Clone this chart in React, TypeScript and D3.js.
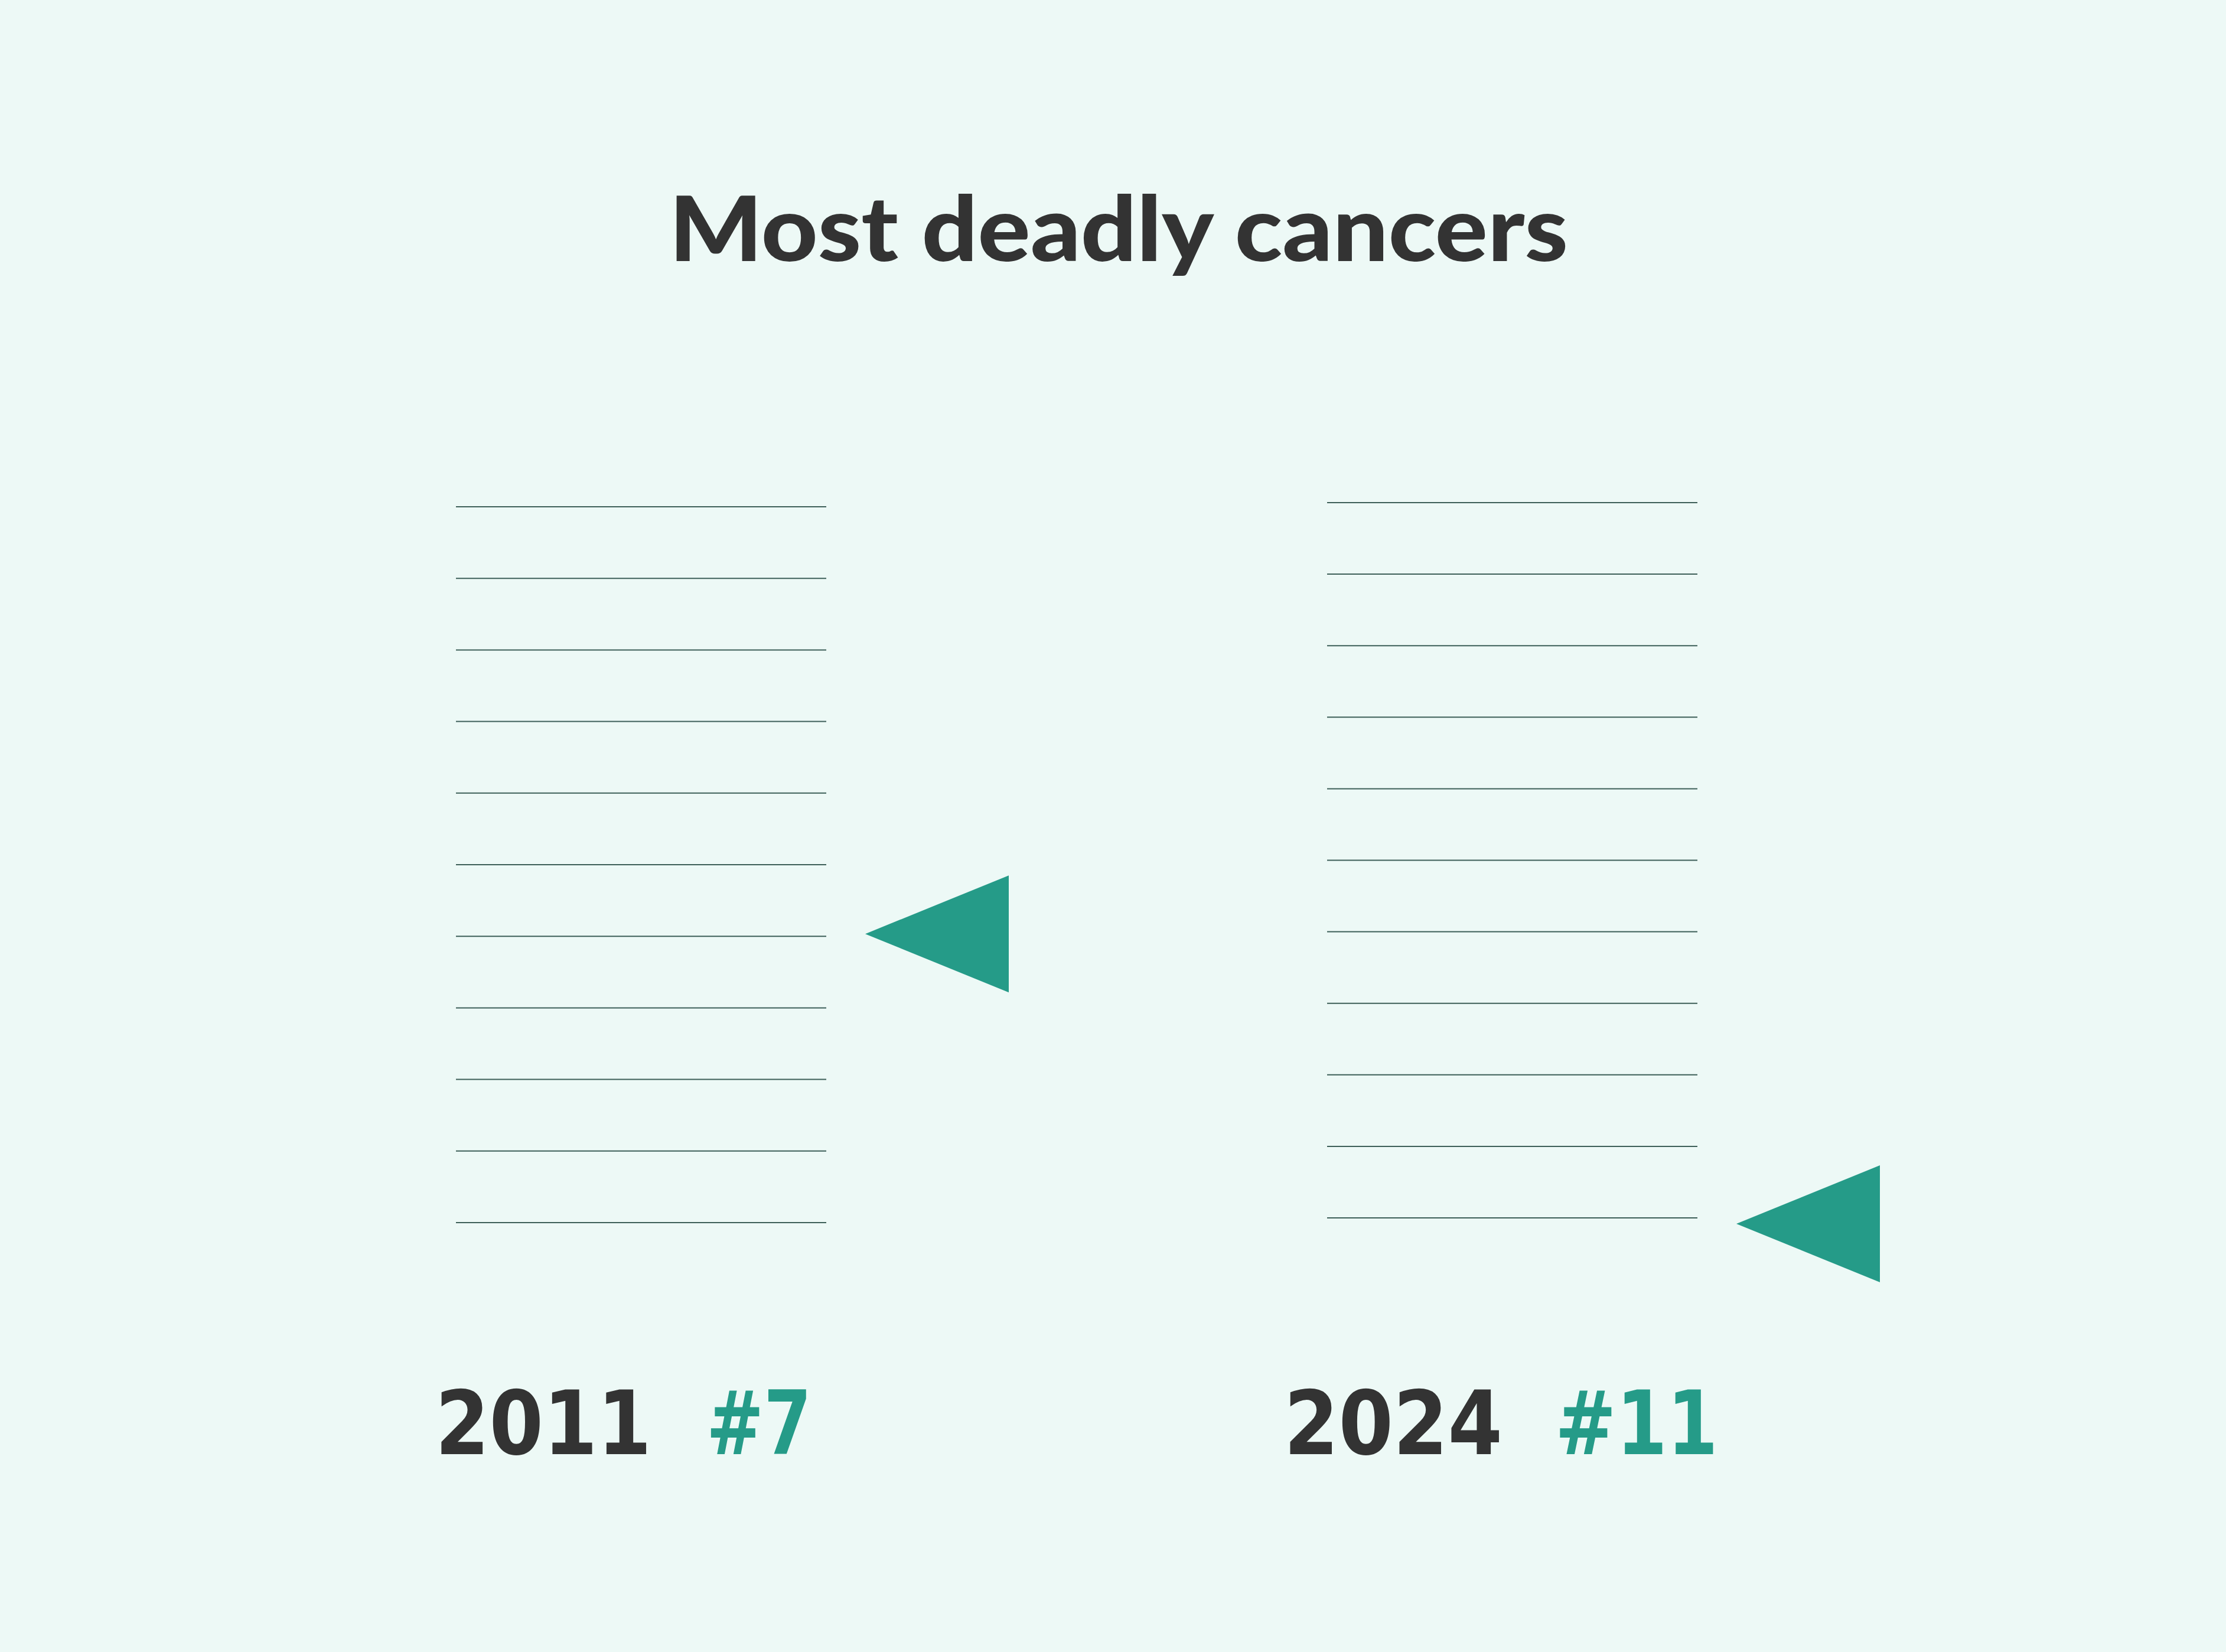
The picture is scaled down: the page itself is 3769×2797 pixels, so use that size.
import React from "react";
import * as d3 from "d3";

const title = "Most deadly cancers";
const years = ["2011", "2024"];
const ranks = [7, 11];
const rankLabels = ["#7", "#11"];
const lineCount = 11;

const W = 3769;
const H = 2797;
const BG = "#edf9f6";
const DARK = "#333333";
const TEAL = "#259b88";
const LINE = "#3d5f58";

const panels = [
  { x0: 772, x1: 1399, y0: 858, y1: 2070, triDy: -4, yearX: 737, yearW: 366, rankX: 1196, rankW: 178 },
  { x0: 2247, x1: 2874, y0: 851, y1: 2062, triDy: 10, yearX: 2174, yearW: 370, rankX: 2633, rankW: 276 },
];

export default function App() {
  const rankDomain = d3.range(1, lineCount + 1);
  return (
    <svg width={W} height={H} style={{ display: "block", position: "absolute", left: 0, top: 0 }}>
      <rect x={0} y={0} width={W} height={H} fill={BG} />
      <text
        x={1894}
        y={442}
        textAnchor="middle"
        fontFamily="Lato, 'Noto Sans', sans-serif"
        fontWeight={900}
        fontSize={152}
        fill={DARK}
        textLength={1522}
        lengthAdjust="spacingAndGlyphs"
      >
        {title}
      </text>
      {panels.map((p, i) => {
        const y = d3.scaleLinear().domain([1, lineCount]).range([p.y0, p.y1]);
        const ry = y(ranks[i]) + p.triDy;
        const tipX = p.x1 + 66;
        const triW = 243;
        const triH = 99;
        const tri = d3.line()([
          [tipX, ry],
          [tipX + triW, ry - triH],
          [tipX + triW, ry + triH],
        ]) + "Z";
        return (
          <g key={years[i]}>
            {rankDomain.map((r) => (
              <line key={r} x1={p.x0} x2={p.x1} y1={y(r)} y2={y(r)} stroke={LINE} strokeWidth={2} />
            ))}
            <path d={tri} fill={TEAL} />
            <text
              x={p.yearX}
              y={2462}
              fontFamily="'DejaVu Sans', sans-serif"
              fontWeight={700}
              fontSize={150}
              fill={DARK}
              textLength={p.yearW}
              lengthAdjust="spacingAndGlyphs"
            >
              {years[i]}
            </text>
            <text
              x={p.rankX}
              y={2462}
              fontFamily="'DejaVu Sans', sans-serif"
              fontWeight={700}
              fontSize={150}
              fill={TEAL}
              textLength={p.rankW}
              lengthAdjust="spacingAndGlyphs"
            >
              {rankLabels[i]}
            </text>
          </g>
        );
      })}
    </svg>
  );
}
